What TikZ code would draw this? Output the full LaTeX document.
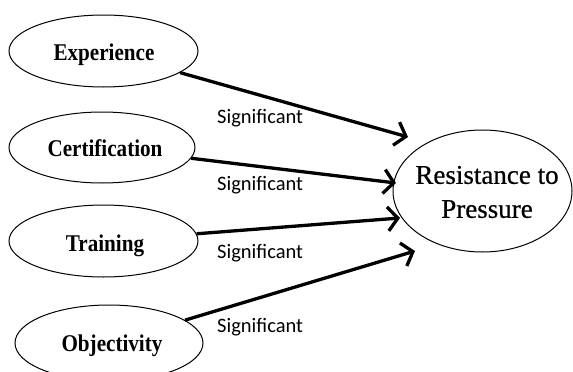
\documentclass[tikz,border=0pt]{standalone}
\usepackage{fontspec}
\setmainfont{Liberation Serif}
\newfontfamily\factorfont[FakeStretch=0.88]{Liberation Serif}
\newfontfamily\resfont[FakeBold=0.6]{Liberation Serif}
\newfontfamily\sigfont{Carlito}
\usetikzlibrary{shapes.geometric,arrows.meta}
\begin{document}
\begin{tikzpicture}[x=1pt,y=-1pt,
  oval/.style={ellipse,draw,line width=1pt,inner sep=0pt},
  factor/.style={font=\factorfont\fontsize{24}{28}\selectfont\bfseries,anchor=base,inner sep=0pt},
  sig/.style={font=\sigfont\fontsize{20.5}{24}\selectfont,anchor=west,inner sep=0pt},
  link/.style={line width=3.3pt,-{Straight Barb[length=10pt,width=24pt,line width=3.3pt]}}]
\clip (0,0) rectangle (573,372);
\fill[white] (0,0) rectangle (573,372);
\node[oval,minimum width=189pt,minimum height=72pt] (exp) at (103.5,51) {};
\node[factor] (exptext) at (104,60) {Experience};
\node[oval,minimum width=186pt,minimum height=71pt] (cert) at (102,147.5) {};
\node[factor] (certtext) at (105,156) {Certification};
\node[oval,minimum width=189pt,minimum height=72pt] (train) at (103.5,241) {};
\node[factor] (traintext) at (105,251) {Training};
\node[oval,minimum width=188pt,minimum height=76pt] (obj) at (109,343) {};
\node[factor] (objtext) at (112,351) {Objectivity};
\node[oval,minimum width=179pt,minimum height=122pt] (res) at (482.5,191) {};
\node[align=center,font=\resfont\fontsize{27}{34}\selectfont] (restext) at (487,192) {Resistance to\\Pressure};
\coordinate (t1) at (408,137);
\coordinate (t2) at (396,183);
\coordinate (t3) at (400,218);
\coordinate (t4) at (415,251);
\draw[link] (exp) -- (t1);
\draw[link] (cert) -- (t2);
\draw[link] (train) -- (t3);
\draw[link] (obj) -- (t4);
\node[sig] (s1) at (217,118) {Significant};
\node[sig] (s2) at (217,185) {Significant};
\node[sig] (s3) at (217,253) {Significant};
\node[sig] (s4) at (217,327) {Significant};
\end{tikzpicture}
\end{document}
